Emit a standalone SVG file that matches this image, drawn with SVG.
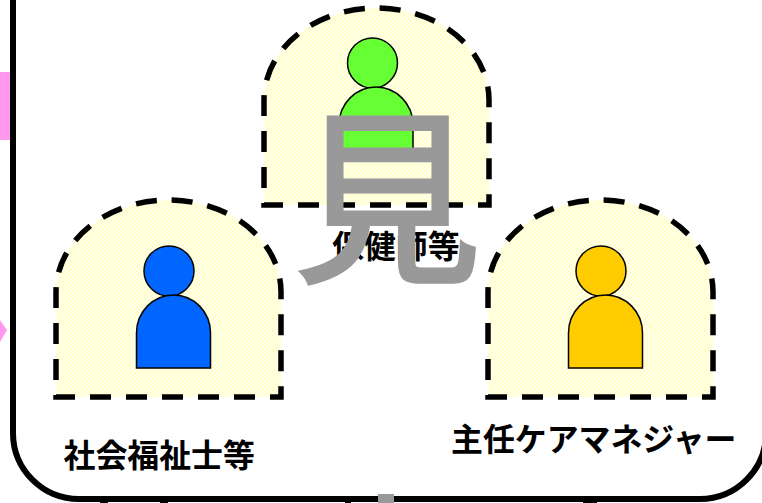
<svg xmlns="http://www.w3.org/2000/svg" width="762" height="503" viewBox="0 0 762 503">
<style>
.arch{fill:url(#dots);stroke:none}
.dash{fill:none;stroke:#000;stroke-width:5.500;stroke-dasharray:21 15}
.p{stroke:#000;stroke-width:1.500}
.lbl{font-family:"Noto Sans CJK JP","Liberation Sans",sans-serif;font-weight:700;font-size:31.900px;fill:#000}
</style>
<defs>
<pattern id="dots" width="4" height="4" patternUnits="userSpaceOnUse"><rect width="4" height="4" fill="#ffffcc"/><rect width="2" height="2" fill="#ffffea"/><rect x="2" y="2" width="2" height="2" fill="#ffffea"/></pattern>
<g id="archShape">
<path class="arch" d="M264 205V100A112.500 92 0 0 1 489 100V205Z"/>
<path class="dash" d="M489 195V205H264V100A112.500 92 0 0 1 489 100V195"/>
</g>
<path id="body" d="M-37 73V38A37 38 0 0 1 37 38V73Z"/>
</defs>
<rect width="762" height="503" fill="#fff"/>
<g id="left-marks">
<rect x="0" y="72" width="10" height="68" fill="#ff99ee"/>
<path d="M0 320L7 330L0 342Z" fill="#ff99ee"/>
</g>
<g id="frame"><rect x="13" y="-100" width="753" height="599" rx="66" ry="66" fill="none" stroke="#000" stroke-width="6"/></g>
<g id="connectors">
<rect x="378" y="494" width="16" height="9" fill="#999"/>
<rect x="100" y="501" width="8" height="2"/><rect x="160" y="501" width="8" height="2"/><rect x="345" y="501" width="6" height="2"/><rect x="583" y="501" width="14" height="2"/>
</g>
<g id="node-hokenshi">
<use href="#archShape"/>
<circle class="p" cx="372.500" cy="63" r="25" fill="#66ff33"/>
<use href="#body" class="p" x="376" y="87" fill="#66ff33"/>
<text class="lbl" x="332" y="258">保健師等</text>
</g>
<g id="node-shakai">
<use href="#archShape" x="-208" y="192"/>
<circle class="p" cx="169" cy="271" r="25" fill="#0066ff"/>
<use href="#body" class="p" x="173.500" y="295" fill="#0066ff"/>
<text class="lbl" x="63.500" y="467">社会福祉士等</text>
</g>
<g id="node-care">
<use href="#archShape" x="224" y="192"/>
<circle class="p" cx="601" cy="271" r="25" fill="#ffcc00"/>
<use href="#body" class="p" x="605.500" y="295" fill="#ffcc00"/>
<text class="lbl" x="451" y="451">主任ケアマネジャー</text>
</g>
<text id="watermark" x="293.500" y="268" font-family="Noto Sans CJK JP,sans-serif" font-size="188" fill="#999" stroke="#999" stroke-width="3">見</text>
</svg>
